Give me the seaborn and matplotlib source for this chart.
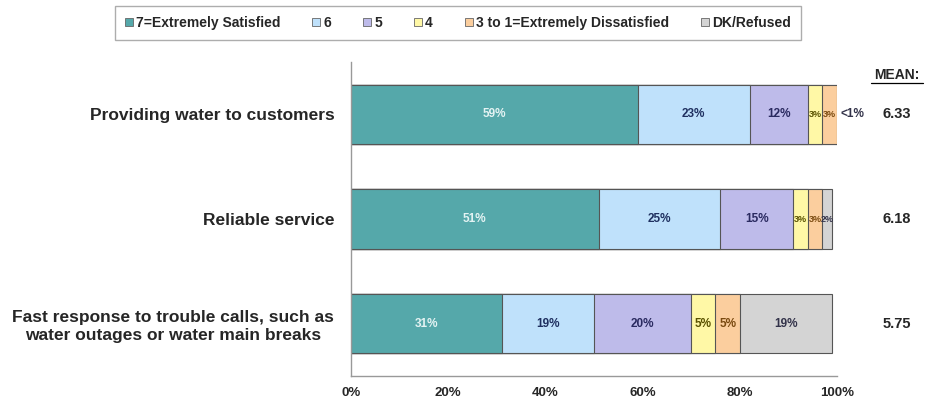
import numpy as np
import pandas as pd
import matplotlib
matplotlib.use('Agg')
import matplotlib.pyplot as plt
import matplotlib.transforms as mtransforms
import seaborn as sns
from matplotlib.lines import Line2D
from matplotlib.patches import Patch

# Data
categories = ['Providing water to customers',
              'Reliable service',
              'Fast response to trouble calls, such as\nwater outages or water main breaks']
segments = ['7=Extremely Satisfied', '6', '5', '4', '3 to 1=Extremely Dissatisfied', 'DK/Refused']
sat7 = [59, 51, 31]
sat6 = [23, 25, 19]
sat5 = [12, 15, 20]
sat4 = [3, 3, 5]
sat3to1 = [3, 3, 5]
dk = [0.4, 2, 19]
seg_labels = [['59%', '23%', '12%', '3%', '3%', '<1%'],
              ['51%', '25%', '15%', '3%', '3%', '2%'],
              ['31%', '19%', '20%', '5%', '5%', '19%']]
means = ['6.33', '6.18', '5.75']

colors = ['#55A8AA', '#BFE1FB', '#BEBBEA', '#FFF8A6', '#FBCE9E', '#D4D4D4']
text_colors = ['#E4F3F3', '#1F3060', '#2A2A60', '#5A5200', '#7A4A10', '#33334A']

sns.set_style('white')
plt.rcParams['font.family'] = ['Liberation Sans', 'DejaVu Sans']

values = np.array([sat7, sat6, sat5, sat4, sat3to1, dk], dtype=float)
cum = np.cumsum(values, axis=0)

fig = plt.figure(figsize=(9.28, 4.09), dpi=100)
ax = fig.add_axes([351 / 928, 1 - 376 / 409, 486 / 928, 314 / 409])

# stacked bars: draw cumulative totals from the right-most segment inward
for i in range(len(segments) - 1, -1, -1):
    df = pd.DataFrame({'category': categories, 'value': cum[i]})
    sns.barplot(data=df, x='value', y='category', orient='h', color=colors[i],
                saturation=1, width=0.57, edgecolor='#555555', linewidth=0.8, ax=ax)

# segment labels (tiny last segments sit just right of the bar)
for j in range(len(categories)):
    start = 0
    for i in range(len(segments)):
        w = values[i, j]
        if w < 1:
            ax.text(start + w + 0.3, j, seg_labels[j][i], ha='left', va='center',
                    fontsize=8.5, fontweight='bold', color=text_colors[i])
        else:
            ax.text(start + w / 2, j, seg_labels[j][i], ha='center', va='center',
                    fontsize=8.5 if w >= 4 else 6.5, fontweight='bold', color=text_colors[i])
        start += w

ax.set_xlim(0, 100)
ax.set_ylim(2.5, -0.5)
ax.set_xlabel('')
ax.set_ylabel('')
ax.set_xticks(np.arange(0, 101, 20))
ax.set_xticklabels([f'{v}%' for v in range(0, 101, 20)], fontsize=9.5, fontweight='bold')
ax.set_yticks(range(len(categories)))
ax.set_yticklabels(categories, fontsize=12.5, fontweight='bold', multialignment='center')
ax.set_yticks([-0.5, 0.5, 1.5, 2.5], minor=True)
ax.tick_params(axis='y', which='major', length=0, pad=12)
ax.tick_params(axis='y', which='minor', length=4, direction='out', color='#888888', width=1)
ax.tick_params(axis='x', length=4, direction='in', color='#888888', width=1, pad=8)

for side in ['top', 'right']:
    ax.spines[side].set_visible(False)
for side in ['left', 'bottom']:
    ax.spines[side].set_color('#999999')
    ax.spines[side].set_linewidth(1)

# mean column
fig.text(897 / 928, 1 - 75 / 409, 'MEAN:', ha='center', va='center', fontsize=10, fontweight='bold')
fig.add_artist(Line2D([871 / 928, 923 / 928], [1 - 83 / 409] * 2, color='black', lw=0.9))
mean_trans = mtransforms.blended_transform_factory(fig.transFigure, ax.transData)
for j, m in enumerate(means):
    ax.text(897 / 928, j, m, transform=mean_trans,
            ha='center', va='center', fontsize=10.5, fontweight='bold')

# legend
handles = [Patch(facecolor=c, edgecolor='#666666', linewidth=0.6) for c in colors]
leg = fig.legend(handles, segments, loc='center', bbox_to_anchor=(458 / 928, 1 - 23 / 409),
                 ncol=6, frameon=True, fancybox=False, edgecolor='#999999',
                 handlelength=0.55, handleheight=0.55, handletextpad=0.25, columnspacing=2.3,
                 borderpad=0.75, prop={'weight': 'bold', 'size': 10})
leg.get_frame().set_linewidth(1)

fig.savefig('out.png', dpi=100)
